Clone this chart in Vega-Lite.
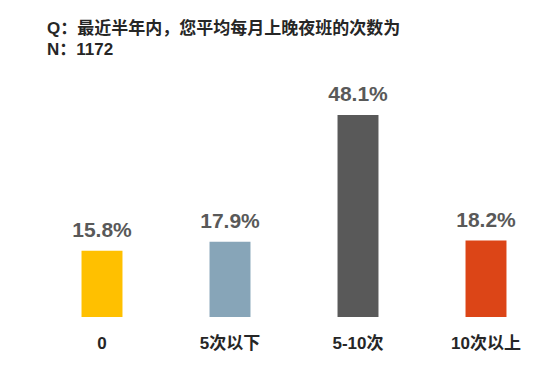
{
  "$schema": "https://vega.github.io/schema/vega-lite/v6.json",
  "autosize": "none",
  "width": 512,
  "height": 252,
  "padding": {"left": 38, "top": 65, "right": 0, "bottom": 48},
  "background": "white",
  "title": {
    "text": ["Q：最近半年内，您平均每月上晚夜班的次数为", "N：1172"],
    "anchor": "start",
    "frame": "group",
    "dx": 9,
    "offset": 6,
    "font": "Liberation Sans, Noto Sans CJK SC",
    "fontSize": 17,
    "fontWeight": "bold",
    "color": "#262626",
    "lineHeight": 21
  },
  "data": {
    "values": [
      {"category": "0", "share": 0.158},
      {"category": "5次以下", "share": 0.179},
      {"category": "5-10次", "share": 0.481},
      {"category": "10次以上", "share": 0.182}
    ]
  },
  "config": {"view": {"stroke": null}},
  "encoding": {
    "x": {
      "field": "category",
      "type": "nominal",
      "sort": null,
      "scale": {"paddingInner": 0.68, "paddingOuter": 0.34},
      "axis": {
        "title": null,
        "domain": false,
        "ticks": false,
        "labelAngle": 0,
        "labelPadding": 18,
        "labelFont": "Liberation Sans, Noto Sans CJK SC",
        "labelFontSize": 17,
        "labelFontWeight": "bold",
        "labelColor": "#262626"
      }
    },
    "y": {
      "field": "share",
      "type": "quantitative",
      "scale": {"domain": [0, 0.6]},
      "axis": null
    }
  },
  "layer": [
    {
      "mark": {"type": "bar"},
      "encoding": {
        "color": {
          "field": "category",
          "type": "nominal",
          "sort": null,
          "scale": {
            "domain": ["0", "5次以下", "5-10次", "10次以上"],
            "range": ["#FFC000", "#87A5B8", "#595959", "#DC4517"]
          },
          "legend": null
        }
      }
    },
    {
      "mark": {
        "type": "text",
        "dy": -10,
        "baseline": "bottom",
        "font": "Liberation Sans",
        "fontSize": 21,
        "fontWeight": "bold",
        "color": "#595959"
      },
      "encoding": {
        "text": {"field": "share", "type": "quantitative", "format": ".1%"}
      }
    }
  ]
}
